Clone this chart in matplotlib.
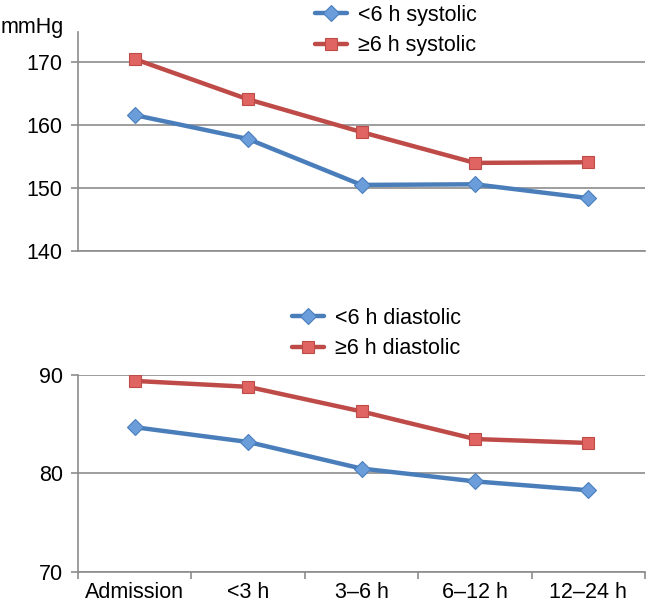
import numpy as np
import matplotlib.pyplot as plt
from matplotlib.ticker import FixedLocator

plt.rcParams['font.family'] = ['Liberation Sans', 'DejaVu Sans']

categories = ["Admission", "<3 h", "3\u20136 h", "6\u201312 h", "12\u201324 h"]
sys_lt6 = [161.6, 157.8, 150.5, 150.6, 148.4]
sys_ge6 = [170.5, 164.1, 158.9, 154.0, 154.1]
dia_lt6 = [84.7, 83.2, 80.5, 79.2, 78.3]
dia_ge6 = [89.4, 88.8, 86.3, 83.5, 83.1]

BLUE = "#4a7ebb"
BLUE_FACE = "#6b9ddb"
RED = "#be4b48"
RED_FACE = "#e06462"
GRID = "#8c8c8c"
FS = 15.5

W, H = 647, 606
fig = plt.figure(figsize=(W / 100, H / 100), dpi=100)


def px_axes(x0, y0, x1, y1):
    return fig.add_axes([x0 / W, 1 - y1 / H, (x1 - x0) / W, (y1 - y0) / H])


def style(ax, ymin, ymax, yticks, show_x):
    x = np.arange(len(categories))
    ax.set_xlim(-0.5, len(categories) - 0.5)
    ax.set_ylim(ymin, ymax)
    ax.set_yticks(yticks)
    ax.yaxis.grid(True, color=GRID, linewidth=1.2)
    ax.set_axisbelow(True)
    for s in ("top", "right"):
        ax.spines[s].set_visible(False)
    for s in ("left", "bottom"):
        ax.spines[s].set_color(GRID)
        ax.spines[s].set_linewidth(1.2)
    ax.tick_params(axis="y", length=5, width=1.2, color=GRID, labelsize=FS, pad=6)
    if show_x:
        ax.set_xticks(x)
        ax.set_xticklabels(categories, fontsize=FS)
        ax.tick_params(axis="x", which="major", length=0, pad=7)
        ax.xaxis.set_minor_locator(FixedLocator(np.arange(len(categories) + 1) - 0.5))
        ax.tick_params(axis="x", which="minor", length=5, width=1.2, color=GRID)
    else:
        ax.set_xticks([])


def draw(ax, lt6, ge6):
    x = np.arange(len(categories))
    l1, = ax.plot(x, lt6, color=BLUE, lw=3.2, marker="D", ms=8,
                  mfc=BLUE_FACE, mec=BLUE, mew=0.8, solid_capstyle="round")
    l2, = ax.plot(x, ge6, color=RED, lw=3.2, marker="s", ms=9,
                  mfc=RED_FACE, mec=RED, mew=0.8, solid_capstyle="round")
    return l1, l2


ax1 = px_axes(78, 32, 645, 251)
style(ax1, 140, 174.8, [140, 150, 160, 170], False)
h1 = draw(ax1, sys_lt6, sys_ge6)
fig.text(0.5 / W, 1 - 28 / H, "mmHg", fontsize=FS, va="center", ha="left")
fig.legend(h1, ["<6 h systolic", "\u22656 h systolic"], loc="upper left",
           bbox_to_anchor=(306 / W, 1 + 4 / H), frameon=False, fontsize=FS,
           handlelength=1.5, handletextpad=0.5, labelspacing=0.45, borderaxespad=0)

ax2 = px_axes(78, 375, 645, 572)
style(ax2, 70, 90, [70, 80, 90], True)
h2 = draw(ax2, dia_lt6, dia_ge6)
fig.legend(h2, ["<6 h diastolic", "\u22656 h diastolic"], loc="upper left",
           bbox_to_anchor=(283 / W, 1 - 299 / H), frameon=False, fontsize=FS,
           handlelength=1.5, handletextpad=0.5, labelspacing=0.45, borderaxespad=0)

fig.savefig("out.png", dpi=100)
